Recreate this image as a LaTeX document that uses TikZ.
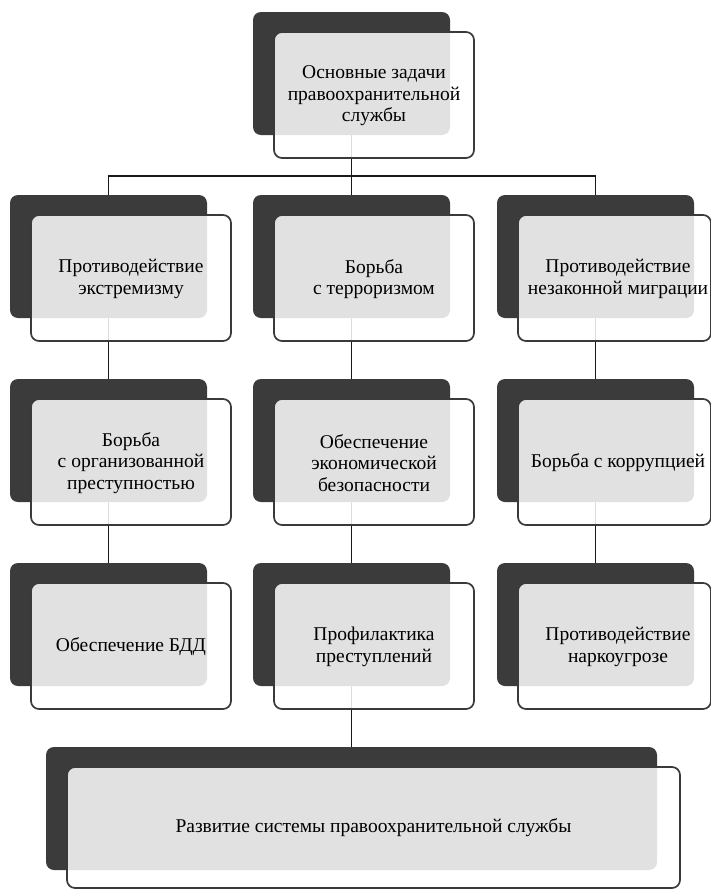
\documentclass[tikz,border=0pt]{standalone}
\usepackage{fontspec}
\setmainfont{Liberation Serif}
\usetikzlibrary{backgrounds}
\definecolor{boxdark}{HTML}{3B3B3B}
\definecolor{framegray}{HTML}{3A3A3A}
\newcommand\mkunit[6]{%
  \node[darkbox, anchor=north west, minimum width=#6pt] (#1) at (#2,#3) {};
  \node[framebox, anchor=north west, minimum width=#5pt, minimum height=126pt] (#1f) at (#2+21,#3+20) {};
  \node[txt] (#1t) at (#2+121,#3+84) {#4};}
\begin{document}
\begin{tikzpicture}[x=1pt,y=-1pt,
  darkbox/.style={fill=boxdark, draw=none, rounded corners=8pt, inner sep=0pt, outer sep=0pt, minimum height=123pt},
  framebox/.style={draw=framegray, line width=1.7pt, fill=white, fill opacity=0.85, rounded corners=8pt, inner sep=0pt, outer sep=0pt},
  txt/.style={align=center, font=\fontsize{19.5}{21.5}\selectfont, text=black},
  link/.style={draw=black!90, line width=1.7pt}]
\useasboundingbox (0,0) rectangle (711,889);
% top
\mkunit{top}{253}{12}{Основные задачи\\правоохранительной\\службы}{200}{197}
% row 1
\mkunit{a1}{10}{195}{Противодействие\\экстремизму}{200}{197}
\mkunit{b1}{253}{195}{Борьба\\с терроризмом}{200}{197}
\mkunit{c1}{497}{195}{Противодействие\\незаконной миграции}{193}{197}
% row 2
\mkunit{a2}{10}{379}{Борьба\\с организованной\\преступностью}{200}{197}
\mkunit{b2}{253}{379}{Обеспечение\\экономической\\безопасности}{200}{197}
\mkunit{c2}{497}{379}{Борьба с коррупцией}{193}{197}
% row 3
\mkunit{a3}{10}{563}{Обеспечение БДД}{200}{197}
\mkunit{b3}{253}{563}{Профилактика\\преступлений}{200}{197}
\mkunit{c3}{497}{563}{Противодействие\\наркоугрозе}{193}{197}
% bottom
\node[darkbox, anchor=north west, minimum width=611pt] (bot) at (46,747) {};
\node[framebox, anchor=north west, minimum width=613pt, minimum height=121pt] (botf) at (67,767) {};
\node[txt] (bott) at (373.5,828) {Развитие системы правоохранительной службы};
\coordinate (jn) at (352,176);
\begin{scope}[on background layer]
  \draw[link] (top.center) -- (top.center |- jn);
  \draw[link] (a1.center) |- (jn) -| (c1.center);
  \draw[link] (top.center |- jn) -- (b1.center);
  \draw[link] (a1.center) -- (a2.center) -- (a3.center);
  \draw[link] (b1.center) -- (b2.center) -- (b3.center) -- (bot.center);
  \draw[link] (c1.center) -- (c2.center) -- (c3.center);
\end{scope}
\end{tikzpicture}
\end{document}
